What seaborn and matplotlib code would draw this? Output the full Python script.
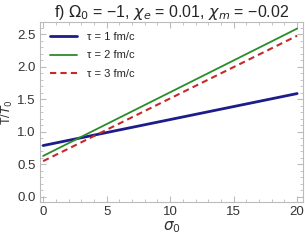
import numpy as np
import pandas as pd
import matplotlib
matplotlib.use("Agg")
import matplotlib.pyplot as plt
import seaborn as sns
from matplotlib.ticker import MultipleLocator

# values (lines are straight, end points suffice)
sigma0 = [0, 20]
t_tau1 = [0.79, 1.59]
t_tau2 = [0.63, 2.59]
t_tau3 = [0.55, 2.48]
labels = ["τ = 1 fm/c", "τ = 2 fm/c", "τ = 3 fm/c"]

df = pd.DataFrame({
    "sigma0": sigma0 * 3,
    "T": t_tau1 + t_tau2 + t_tau3,
    "tau": [labels[0]] * 2 + [labels[1]] * 2 + [labels[2]] * 2,
})

sns.set_style("ticks")
plt.rcParams['font.family'] = ['Liberation Sans', 'DejaVu Sans']
plt.rcParams['mathtext.fontset'] = 'dejavusans'

fig = plt.figure(figsize=(3.05, 2.40), dpi=100)
ax = fig.add_axes([0.131, 0.158, 0.862, 0.75])

palette = {labels[0]: "#1c1c8a", labels[1]: "#2a8c2a", labels[2]: "#c42a2a"}
sns.lineplot(data=df, x="sigma0", y="T", hue="tau", style="tau",
             palette=palette, dashes={labels[0]: "", labels[1]: "", labels[2]: (3, 2)},
             ax=ax, legend=True)
widths = [2.0, 1.3, 1.5]
for line, lw in zip(ax.lines, widths):
    line.set_linewidth(lw)

ax.set_xlim(-0.25, 20.45)
ax.set_ylim(-0.08, 2.69)
ax.xaxis.set_major_locator(MultipleLocator(5))
ax.xaxis.set_minor_locator(MultipleLocator(1))
ax.yaxis.set_major_locator(MultipleLocator(0.5))
ax.yaxis.set_minor_locator(MultipleLocator(0.1))
ax.yaxis.set_major_formatter(matplotlib.ticker.FormatStrFormatter('%.1f'))
ax.tick_params(which="both", direction="in", color="#bbbbbb", labelsize=9.5,
               labelcolor="#333333", top=True, right=True, pad=3)
ax.tick_params(which="major", length=4)
ax.tick_params(which="minor", length=2)
for s in ax.spines.values():
    s.set_color("#bbbbbb")
    s.set_linewidth(0.8)

ax.set_xlabel(r"$\sigma_0$", fontsize=11, color="#333333", labelpad=1)
ax.set_ylabel(r"T/$T_0$", fontsize=9, color="#333333")
ax.yaxis.set_label_coords(-0.095, 0.5)
ax.set_title(r"f) $\Omega_0$ = −1, $\chi_e$ = 0.01, $\chi_m$ = −0.02",
             fontsize=11.5, pad=2)

leg = ax.legend(loc="upper left", frameon=False, fontsize=8,
                handlelength=2.4, labelspacing=0.75, borderaxespad=0.5,
                handletextpad=0.9)
for h, lw in zip(leg.get_lines(), widths):
    h.set_linewidth(lw)

fig.savefig("out.png", dpi=100)
